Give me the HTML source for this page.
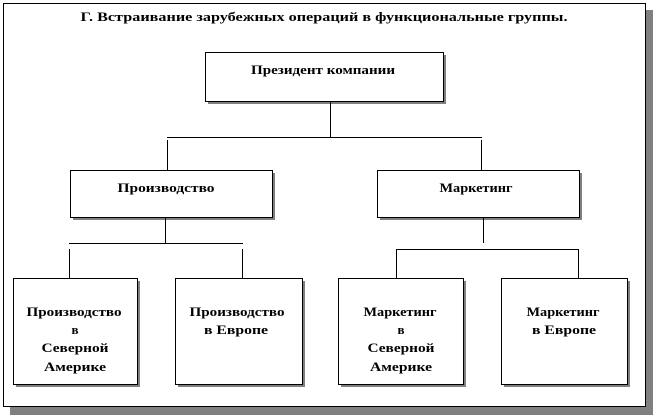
<!DOCTYPE html>
<html><head><meta charset="utf-8"><style>
html,body{margin:0;padding:0;background:#fff;width:656px;height:417px;overflow:hidden}
svg text{font-family:"Liberation Serif","Noto Serif CJK SC",serif;font-weight:bold;font-size:13px;fill:#000;text-anchor:middle}
</style></head><body>
<svg width="656" height="417" viewBox="0 0 656 417" xmlns="http://www.w3.org/2000/svg">
<rect x="10" y="10" width="643" height="405" fill="#808080"/>
<rect x="3.5" y="3.5" width="642" height="403" fill="#fff" stroke="#000" stroke-width="1"/>
<text x="324" y="21" textLength="487" lengthAdjust="spacingAndGlyphs">Г. Встраивание зарубежных операций в функциональные группы.</text>
<g fill="#808080">
<rect x="208" y="55" width="238" height="49"/>
<rect x="73" y="173" width="202" height="47"/>
<rect x="380" y="173" width="202" height="47"/>
<rect x="16" y="281" width="124" height="106"/>
<rect x="178" y="281" width="127" height="106"/>
<rect x="341" y="281" width="125" height="106"/>
<rect x="504" y="281" width="126" height="106"/>
</g>
<g fill="#fff" stroke="#000" stroke-width="1">
<rect x="205.5" y="52.5" width="238" height="49"/>
<rect x="70.5" y="170.5" width="202" height="47"/>
<rect x="377.5" y="170.5" width="202" height="47"/>
<rect x="13.5" y="278.5" width="124" height="106"/>
<rect x="175.5" y="278.5" width="127" height="106"/>
<rect x="338.5" y="278.5" width="125" height="106"/>
<rect x="501.5" y="278.5" width="126" height="106"/>
</g>
<g stroke="#000" stroke-width="1" fill="none">
<path d="M330.5 102V137M167 137.5H482M167.5 140V170M481.5 140V170"/>
<path d="M165.5 218V243M69 243.5H243M69.5 249V278M242.5 249V278"/>
<path d="M483.5 218V243M396 249.5H579M396.5 249V278M578.5 249V278"/>
</g>
<text x="323" y="74" textLength="144" lengthAdjust="spacingAndGlyphs">Президент компании</text>
<text x="166" y="192" textLength="97" lengthAdjust="spacingAndGlyphs">Производство</text>
<text x="476" y="192" textLength="73" lengthAdjust="spacingAndGlyphs">Маркетинг</text>
<text x="74" y="316" textLength="95" lengthAdjust="spacingAndGlyphs">Производство</text>
<text x="75" y="334">в</text>
<text x="75" y="352" textLength="67" lengthAdjust="spacingAndGlyphs">Северной</text>
<text x="75" y="371" textLength="62" lengthAdjust="spacingAndGlyphs">Америке</text>
<text x="237" y="316" textLength="95" lengthAdjust="spacingAndGlyphs">Производство</text>
<text x="236" y="334" textLength="64" lengthAdjust="spacingAndGlyphs">в Европе</text>
<text x="400" y="316" textLength="73" lengthAdjust="spacingAndGlyphs">Маркетинг</text>
<text x="401" y="334">в</text>
<text x="401" y="352" textLength="67" lengthAdjust="spacingAndGlyphs">Северной</text>
<text x="401" y="371" textLength="62" lengthAdjust="spacingAndGlyphs">Америке</text>
<text x="563" y="316" textLength="73" lengthAdjust="spacingAndGlyphs">Маркетинг</text>
<text x="564" y="334" textLength="64" lengthAdjust="spacingAndGlyphs">в Европе</text>
</svg>
</body></html>
